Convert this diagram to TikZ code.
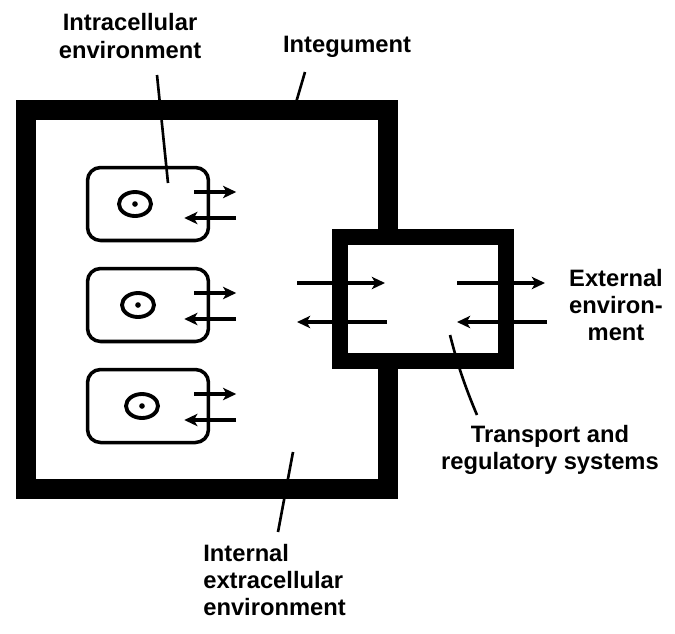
\documentclass[tikz,border=0pt]{standalone}
\usepackage{fontspec}
\setmainfont{Liberation Sans}
\usetikzlibrary{arrows.meta}
\begin{document}
\begin{tikzpicture}[x=0.02cm,y=-0.02cm,line join=miter,
    every node/.style={font=\bfseries\fontsize{13.5}{15.5}\selectfont,inner sep=0pt},
    wall/.style={line width=11.3pt},
    gate/.style={draw,line width=9.6pt,minimum width=3.32cm,minimum height=2.48cm},
    cell/.style={draw,rounded corners=0.26cm,line width=2pt,minimum width=2.42cm,minimum height=1.46cm},
    flow/.style={line width=2.5pt,-{Stealth[length=7.5pt,width=7pt,inset=2pt]}},
    lead/.style={line width=1.5pt},
    declare function={
      xL=26; xR=388; yT=110; yB=489;
      gT=237; gB=361;
    }]
  \useasboundingbox (0,0) rectangle (675,633);
  % integument, open where the transport systems sit
  \draw[wall] (xR,gT) -- (xR,yT) -- (xL,yT) -- (xL,yB) -- (xR,yB) -- (xR,gB);
  \node[gate] (tsys) at (423,299) {};
  % cells with their nuclei
  \foreach \i/\y/\nx in {1/204/135,2/305/138,3/406/142}{
    \node[cell] (cell\i) at (148,\y) {};
    \draw[line width=2.2pt] (\nx,\y) ellipse [x radius=0.32cm,y radius=0.24cm];
    \fill (\nx,\y) circle (1.6pt);
    \draw[flow] ([shift={(-16,-12)}]cell\i.east) -- ++(42,0);
    \draw[flow] ([shift={(26,14)}]cell\i.east) -- ++(-52,0);
  }
  % exchange through the transport systems
  \foreach \a/\b in {297/385,457/545}{
    \draw[flow] (\a,283) -- (\b,283);
    \draw[flow] (\b+2,322) -- (\a,322);
  }
  % labels
  \node[align=center] (intra) at (130,36) {Intracellular\\environment};
  \node (integ) at (347,47) {Integument};
  \node[align=center] (extl) at (616,305) {External\\environ-\\ment};
  \node[align=center] (trans) at (550,450) {Transport and\\regulatory systems};
  \node[align=left,anchor=west] (intl) at (203,580) {Internal\\extracellular\\environment};
  \path
  (157,75) coordinate (intra-a)
  (168,183) coordinate (intra-b)
  (305,72) coordinate (integ-a)
  (295,106) coordinate (integ-b)
  (477,415) coordinate (trans-a)
  (450,335) coordinate (trans-b)
  (278,532) coordinate (intl-a)
  (293,452) coordinate (intl-b);
  \draw[lead] (intra-a) -- (intra-b);
  \draw[lead] (integ-a) -- (integ-b);
  \draw[lead] (trans-a) .. controls (460,375) and (454,350) .. (trans-b);
  \draw[lead] (intl-a) -- (intl-b);
\end{tikzpicture}
\end{document}
